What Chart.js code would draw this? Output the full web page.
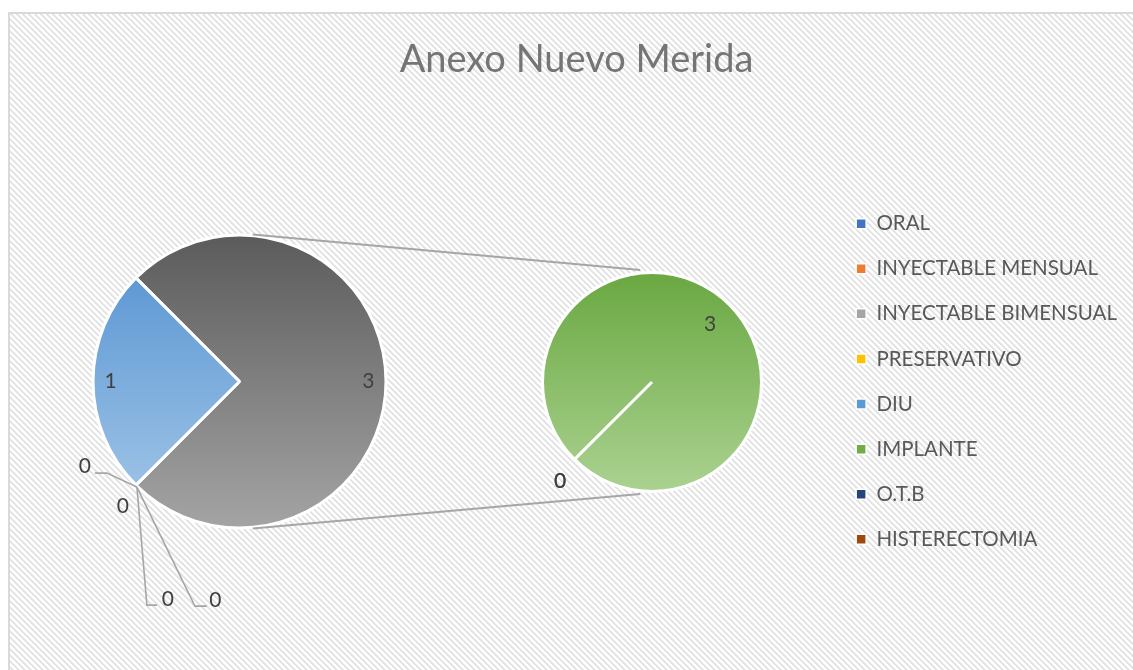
<!DOCTYPE html>
<html>
<head>
<meta charset="utf-8">
<title>Anexo Nuevo Merida</title>
<script src="https://cdn.jsdelivr.net/npm/chart.js@4.4.1/dist/chart.umd.min.js"></script>
<style>
  html, body { margin: 0; padding: 0; width: 1133px; height: 670px; overflow: hidden; background: #ffffff; }
  #frame {
    position: absolute; left: 8px; top: 12px; width: 1137px; height: 670px;
    box-shadow: inset 2px 2px 0 #d9d9d9;
  }
  #frame canvas { position: absolute; left: 0; top: 0; }
</style>
</head>
<body>
<div id="frame">
  <canvas id="mainPie" width="1137" height="670"></canvas>
  <canvas id="detailPie" width="1137" height="670"></canvas>
</div>
<script>
// ---- data ----
const categories = ['ORAL', 'INYECTABLE MENSUAL', 'INYECTABLE BIMENSUAL', 'PRESERVATIVO', 'DIU', 'IMPLANTE', 'O.T.B', 'HISTERECTOMIA'];
const values = [0, 0, 0, 0, 1, 3, 0, 0];
const seriesColors = ['#4472C4', '#ED7D31', '#A5A5A5', '#FFC000', '#5B9BD5', '#70AD47', '#264478', '#9E480E'];
const detailCount = 3;            // trailing categories broken out into the second pie
const otherLabel = 'Otro';
const titleText = 'Anexo Nuevo Merida';

// ---- split into the two pies ----
const mainCats = categories.slice(0, categories.length - detailCount);
const mainVals = values.slice(0, values.length - detailCount);
const detailCats = categories.slice(-detailCount);
const detailVals = values.slice(-detailCount);
const otherVal = detailVals.reduce((a, b) => a + b, 0);

// ---- styling ----
const FONT = 'Lato';
const LABEL_COLOR = '#404040';
const LINE_COLOR = '#a6a6a6';
const MAIN_RADIUS = 146.5;
const DETAIL_RADIUS = 109.5;
const MAIN_CENTER_X = 231.5;      // horizontal centre of the main pie inside the frame
const SIDE_PAD = 18;

// diagonal hatch behind the whole chart
(function hatch() {
  const t = document.createElement('canvas');
  t.width = 6; t.height = 6;
  const c = t.getContext('2d');
  c.fillStyle = '#ffffff'; c.fillRect(0, 0, 6, 6);
  for (let y = 0; y < 6; y++) {
    for (let x = 0; x < 6; x++) {
      const k = ((x - y) % 6 + 6) % 6;
      if (k === 0 || k === 1) { c.fillStyle = '#e2e2e2'; c.fillRect(x, y, 1, 1); }
      else if (k === 2) { c.fillStyle = '#eeeeee'; c.fillRect(x, y, 1, 1); }
    }
  }
  document.getElementById('frame').style.backgroundImage = `url(${t.toDataURL()})`;
})();

// vertical shading of the visible slices (top colour, bottom colour)
const shading = {
  [otherLabel]: ['#5b5b5b', '#a4a4a4'],
  'DIU': ['#5291d0', '#a7c9e9'],
  'IMPLANTE': ['#6aa842', '#aad290']
};
const colorOf = name => name === otherLabel ? '#A5A5A5' : seriesColors[categories.indexOf(name)];

function sliceFill(names, radius) {
  return (ctx) => {
    const chart = ctx.chart;
    const name = names[ctx.dataIndex];
    const stops = shading[name];
    const area = chart.chartArea;
    if (!stops || !area) return colorOf(name);
    const cy = (area.top + area.bottom) / 2;
    const g = chart.ctx.createLinearGradient(0, cy - radius, 0, cy + radius);
    g.addColorStop(0, stops[0]);
    g.addColorStop(1, stops[1]);
    return g;
  };
}

// value labels: inside for non-zero slices, outside (with optional leaders) for zero slices
const sliceLabels = {
  id: 'sliceLabels',
  afterDatasetsDraw(chart, args, opts) {
    const ctx = chart.ctx;
    const meta = chart.getDatasetMeta(0);
    const data = chart.data.datasets[0].data;
    ctx.save();
    ctx.font = `${opts.size}px ${FONT}`;
    ctx.fillStyle = LABEL_COLOR;
    ctx.textAlign = 'center';
    ctx.textBaseline = 'middle';
    ctx.strokeStyle = LINE_COLOR;
    ctx.lineWidth = 1.6;
    let z = 0;
    meta.data.forEach((arc, i) => {
      const p = arc.getProps(['x', 'y', 'startAngle', 'endAngle', 'outerRadius'], true);
      const mid = (p.startAngle + p.endAngle) / 2;
      const v = data[i];
      if (v > 0) {
        const d = p.outerRadius * opts.inside;
        ctx.fillText(String(v), p.x + Math.cos(mid) * d, p.y + Math.sin(mid) * d);
      } else {
        const px = p.x + Math.cos(mid) * p.outerRadius;
        const py = p.y + Math.sin(mid) * p.outerRadius;
        const lay = opts.zero[Math.min(z, opts.zero.length - 1)];
        z++;
        if (lay.leader) {
          ctx.beginPath();
          lay.leader.forEach(([dx, dy], k) => k ? ctx.lineTo(px + dx, py + dy) : ctx.moveTo(px + dx, py + dy));
          ctx.stroke();
        }
        ctx.fillText(String(v), px + lay.dx, py + lay.dy);
      }
    });
    ctx.restore();
  }
};

// empty box between the main pie and the legend
let reserveWidth = 380;
const rightReserve = {
  id: 'rightReserve',
  beforeInit(chart) {
    Chart.layouts.addBox(chart, {
      position: 'right', weight: 500, fullSize: false, options: { display: false },
      left: 0, top: 0, right: 0, bottom: 0, width: 0, height: 0,
      isHorizontal() { return false; },
      update(maxWidth, maxHeight) { this.width = reserveWidth; this.height = maxHeight; },
      draw() {}
    });
  }
};

// ---- main pie with title and legend ----
const mainNames = [otherLabel, ...mainCats];
const mainChart = new Chart(document.getElementById('mainPie'), {
  type: 'pie',
  plugins: [rightReserve, sliceLabels],
  data: {
    labels: mainNames,
    datasets: [{
      data: [otherVal, ...mainVals],
      backgroundColor: sliceFill(mainNames, MAIN_RADIUS),
      borderColor: '#ffffff',
      borderWidth: 3,
      radius: MAIN_RADIUS
    }]
  },
  options: {
    responsive: false,
    animation: false,
    events: [],
    rotation: -45,
    layout: { padding: { left: SIDE_PAD, right: SIDE_PAD, top: 0, bottom: 10.6 } },
    plugins: {
      title: {
        display: true,
        text: titleText,
        color: '#757575',
        font: { family: FONT, size: 38, weight: 'normal', lineHeight: 1.2 },
        padding: { top: 25, bottom: 9 }
      },
      legend: {
        display: true,
        position: 'right',
        align: 'center',
        fullSize: false,
        labels: {
          boxWidth: 10,
          boxHeight: 10,
          padding: 24.6,
          color: '#595959',
          font: { family: FONT, size: 20.5 },
          generateLabels: () => categories.map((c, i) => ({
            text: c, fillStyle: seriesColors[i], strokeStyle: '#ffffff', lineWidth: 1.5,
            hidden: false, index: i, fontColor: '#595959'
          }))
        }
      },
      tooltip: { enabled: false },
      sliceLabels: {
        size: 21,
        inside: 0.88,
        zero: [
          { dx: -51, dy: -18.5, leader: [[1, 2], [-29, -12], [-41, -12]] },
          { dx: -13, dy: 21 },
          { dx: 32, dy: 114.5, leader: [[1, 2], [11, 120], [21, 120]] },
          { dx: 79.5, dy: 115.5, leader: [[1, 2], [59, 121], [71, 121]] }
        ]
      }
    }
  }
});
// size the spacer so the pie sits at its place left of the legend
reserveWidth = Math.max(0, mainChart.legend.left - (2 * MAIN_CENTER_X - SIDE_PAD));
mainChart.update();

// lines joining the combined slice to the breakdown pie
const seriesLines = {
  id: 'seriesLines',
  beforeDatasetsDraw(chart, args, opts) {
    const a = mainChart.getDatasetMeta(0).data[0];
    const b = chart.getDatasetMeta(0).data[0];
    if (!a || !b) return;
    const ctx = chart.ctx;
    const d = Math.hypot(b.x - a.x, b.y - a.y);
    const tangent = Math.asin((a.outerRadius - b.outerRadius) / d);
    const startA = Math.PI / 2 - tangent;
    const endA = Math.PI / 2 + opts.endSpread * Math.PI / 180;
    ctx.save();
    ctx.strokeStyle = LINE_COLOR;
    ctx.lineWidth = 2;
    [-1, 1].forEach(s => {
      ctx.beginPath();
      ctx.moveTo(a.x + Math.cos(s * startA) * (a.outerRadius + 1), a.y + Math.sin(s * startA) * (a.outerRadius + 1));
      ctx.lineTo(b.x + Math.cos(s * endA) * (b.outerRadius + 3), b.y + Math.sin(s * endA) * (b.outerRadius + 3));
      ctx.stroke();
    });
    ctx.restore();
  }
};

// ---- breakdown pie ----
const detailChart = new Chart(document.getElementById('detailPie'), {
  type: 'pie',
  plugins: [seriesLines, sliceLabels],
  data: {
    labels: detailCats,
    datasets: [{
      data: detailVals,
      backgroundColor: sliceFill(detailCats, DETAIL_RADIUS),
      borderColor: '#ffffff',
      borderWidth: 3,
      radius: DETAIL_RADIUS
    }]
  },
  options: {
    responsive: false,
    animation: false,
    events: [],
    rotation: 225,
    layout: { padding: { left: 544, right: 393, top: 270, bottom: 200 } },
    plugins: {
      title: { display: false },
      legend: { display: false },
      tooltip: { enabled: false },
      seriesLines: { endSpread: 6 },
      sliceLabels: {
        size: 21,
        inside: 0.75,
        zero: [{ dx: -14.5, dy: 21.5 }]
      }
    }
  }
});
</script>
</body>
</html>
